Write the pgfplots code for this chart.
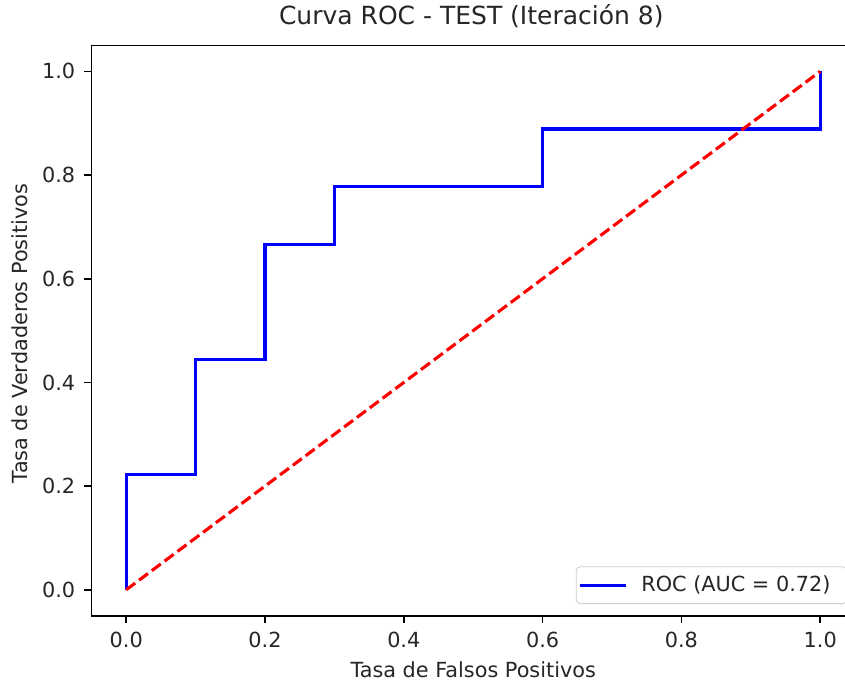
\documentclass[border=0pt]{standalone}
\usepackage{fontspec}
\setmainfont{DejaVu Sans}
\usepackage{pgfplots}
\pgfplotsset{compat=1.18}
\begin{document}
\begin{tikzpicture}
\begin{axis}[
  scale only axis,
  width=381.7pt, height=285.1pt,
  xmin=-0.05, xmax=1.05, ymin=-0.05, ymax=1.05,
  xtick={0,0.2,0.4,0.6,0.8,1.0},
  ytick={0,0.2,0.4,0.6,0.8,1.0},
  /pgf/number format/assume math mode=true,
  xticklabel={\pgfmathprintnumber[fixed,fixed zerofill,precision=1]{\tick}},
  yticklabel={\pgfmathprintnumber[fixed,fixed zerofill,precision=1]{\tick}},
  tick align=outside, tick pos=left,
  major tick length=3.6pt,
  every tick/.style={black, line width=0.83pt},
  axis line style={black, line width=0.83pt},
  ticklabel style={font=\fontsize{10.4}{12}\selectfont, text=black!85},
  xticklabel style={yshift=-1pt},
  yticklabel style={xshift=-1pt},
  title={Curva ROC - TEST (Iteración 8)},
  title style={at={(axis description cs:0.4975,1.0154)}, anchor=base, font=\fontsize{12.5}{15}\selectfont, text=black!85},
  xlabel={Tasa de Falsos Positivos},
  xlabel style={at={(axis description cs:0.5,-0.1075)}, anchor=base, font=\fontsize{10.4}{12}\selectfont, text=black!85},
  ylabel={Tasa de Verdaderos Positivos},
  ylabel style={at={(axis description cs:-0.0832,0.495)}, anchor=base, rotate=0, font=\fontsize{10.4}{12}\selectfont, text=black!85},
  legend style={at={(axis description cs:0.9895,0.0205)}, anchor=south east,
    draw=black!20, rounded corners=2pt, fill=white,
    font=\fontsize{10.4}{12}\selectfont, text=black!85,
    inner xsep=1pt, inner ysep=2.5pt,
    /tikz/every odd column/.append style={column sep=5pt}},
  legend image code/.code={\draw[#1] (0pt,0pt) -- (23pt,0pt);},
  legend cell align=left,
]
\addplot[blue, line width=1.56pt, line join=miter] coordinates {
  (0,0) (0,0.2222) (0.1,0.2222) (0.1,0.4444) (0.2,0.4444) (0.2,0.6667)
  (0.3,0.6667) (0.3,0.7778) (0.6,0.7778) (0.6,0.8889) (1.0,0.8889) (1.0,1.0)
};
\addlegendentry{ROC (AUC = 0.72)\kern5pt}
\addplot[red, line width=1.56pt, dash pattern=on 5.6pt off 2.4pt, forget plot] coordinates {
  (0,0) (1,1)
};
\end{axis}
\pgfresetboundingbox
\path[use as bounding box] ([xshift=-45.75pt,yshift=-33.15pt]current axis.south west) rectangle ([xshift=376.75pt,yshift=307.85pt]current axis.south west);
\end{tikzpicture}
\end{document}
